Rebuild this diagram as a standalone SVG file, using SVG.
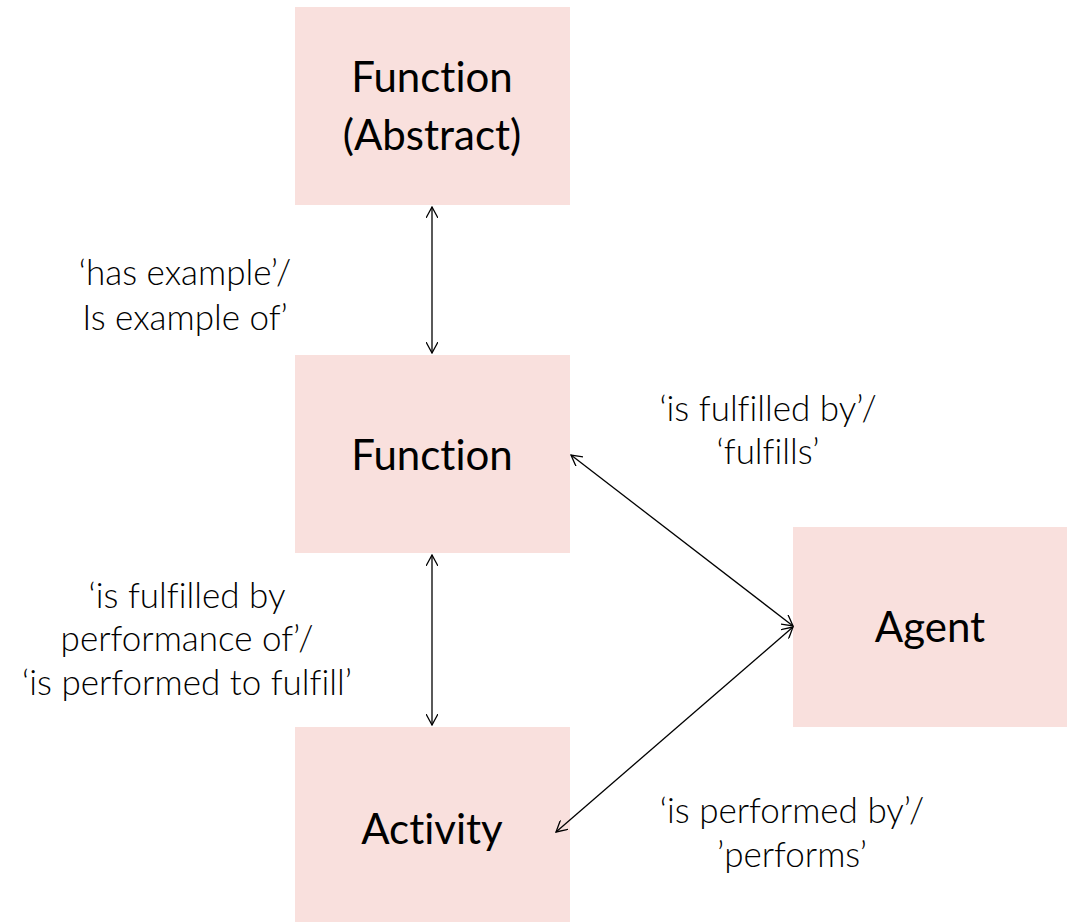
<svg xmlns="http://www.w3.org/2000/svg" width="1074" height="922" viewBox="0 0 1074 922">
  <style>
    .box { fill: #F9E0DD; }
    text { font-variant-ligatures: none; font-feature-settings: "liga" 0; }
    .node-text { font-family: Lato, "Liberation Sans", sans-serif; font-weight: 400; font-size: 42px; fill: #000; text-anchor: middle; }
    .label { font-family: Lato, "Liberation Sans", sans-serif; font-weight: 300; font-size: 35px; fill: #000; text-anchor: middle; }
    .conn { stroke: #000; stroke-width: 1.3; fill: none; marker-start: url(#open); marker-end: url(#open); }
  </style>
  <defs>
    <marker id="open" viewBox="0 0 12 12" refX="11" refY="6" markerWidth="12" markerHeight="12" markerUnits="userSpaceOnUse" orient="auto-start-reverse">
      <path d="M0,0 L11,6 L0,12" fill="none" stroke="#000" stroke-width="1.3"/>
    </marker>
  </defs>
  <rect width="1074" height="922" fill="#fff"/>

  <g id="function-abstract">
    <rect class="box" x="295" y="7" width="275" height="198"/>
    <text class="node-text" x="432" y="92">Function</text>
    <text class="node-text" x="432" y="150">(Abstract)</text>
  </g>
  <g id="function">
    <rect class="box" x="295" y="355" width="275" height="198"/>
    <text class="node-text" x="432" y="470">Function</text>
  </g>
  <g id="activity">
    <rect class="box" x="295" y="727" width="275" height="195"/>
    <text class="node-text" x="432" y="844">Activity</text>
  </g>
  <g id="agent">
    <rect class="box" x="793" y="527" width="274" height="200"/>
    <text class="node-text" x="930" y="642">Agent</text>
  </g>

  <g id="connectors">
    <line class="conn" x1="432" y1="207" x2="432" y2="353"/>
    <line class="conn" x1="432" y1="555" x2="432" y2="725"/>
    <line class="conn" x1="571" y1="455" x2="793" y2="626"/>
    <line class="conn" x1="793" y1="627" x2="556" y2="832"/>
  </g>

  <g id="labels">
    <text class="label" x="185" y="285">‘has example’/</text>
    <text class="label" x="185" y="330">Is example of’</text>
    <text class="label" x="768" y="421">‘is fulfilled by’/</text>
    <text class="label" x="768" y="464">‘fulfills’</text>
    <text class="label" x="187" y="608">‘is fulfilled by</text>
    <text class="label" x="187" y="651">performance of’/</text>
    <text class="label" x="187" y="695">‘is performed to fulfill’</text>
    <text class="label" x="792" y="823">‘is performed by’/</text>
    <text class="label" x="792" y="867">’performs’</text>
  </g>
</svg>
